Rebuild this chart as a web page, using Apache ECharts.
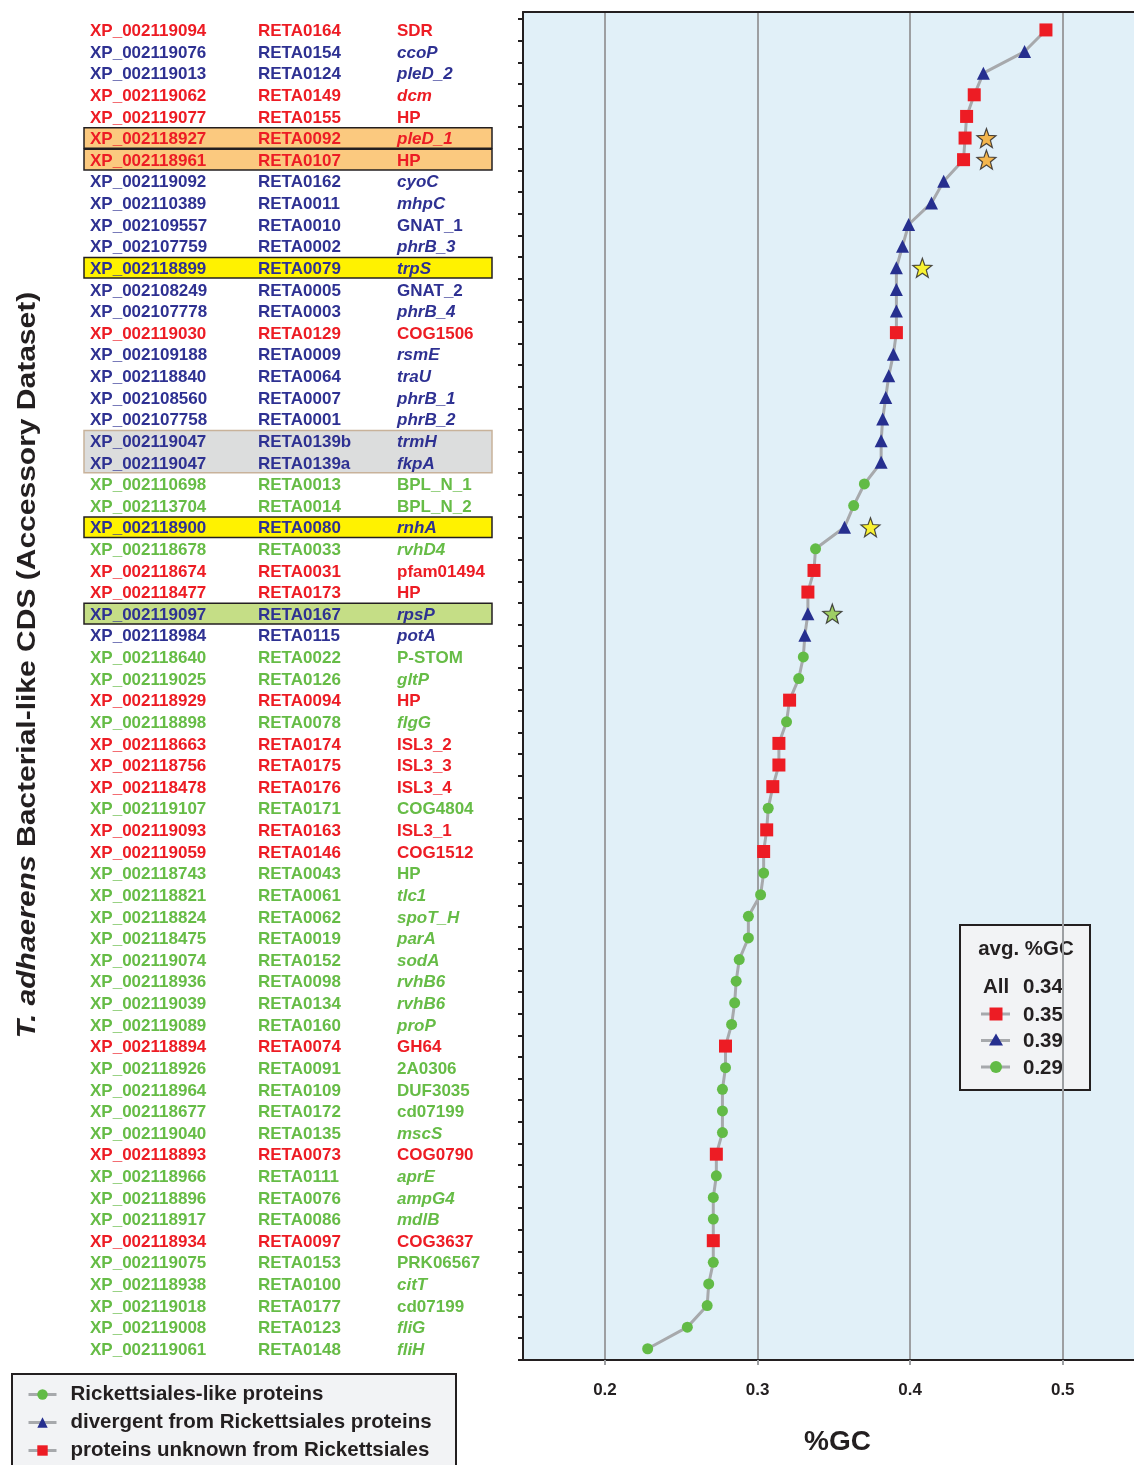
<!DOCTYPE html>
<html>
<head>
<meta charset="utf-8">
<title>T. adhaerens bacterial-like CDS %GC</title>
<script src="https://cdn.jsdelivr.net/npm/echarts@6/dist/echarts.min.js"></script>
<style>
  html, body { margin: 0; padding: 0; background: #fff; }
  #chart { width: 1134px; height: 1465px; }
</style>
</head>
<body>
<div id="chart"></div>
<script>
// rows, top to bottom
const xpIds = [
  'XP_002119094','XP_002119076','XP_002119013','XP_002119062','XP_002119077','XP_002118927','XP_002118961','XP_002119092','XP_002110389','XP_002109557',
  'XP_002107759','XP_002118899','XP_002108249','XP_002107778','XP_002119030','XP_002109188','XP_002118840','XP_002108560','XP_002107758','XP_002119047',
  'XP_002119047','XP_002110698','XP_002113704','XP_002118900','XP_002118678','XP_002118674','XP_002118477','XP_002119097','XP_002118984','XP_002118640',
  'XP_002119025','XP_002118929','XP_002118898','XP_002118663','XP_002118756','XP_002118478','XP_002119107','XP_002119093','XP_002119059','XP_002118743',
  'XP_002118821','XP_002118824','XP_002118475','XP_002119074','XP_002118936','XP_002119039','XP_002119089','XP_002118894','XP_002118926','XP_002118964',
  'XP_002118677','XP_002119040','XP_002118893','XP_002118966','XP_002118896','XP_002118917','XP_002118934','XP_002119075','XP_002118938','XP_002119018',
  'XP_002119008','XP_002119061'
];
const retaIds = [
  'RETA0164','RETA0154','RETA0124','RETA0149','RETA0155','RETA0092','RETA0107','RETA0162','RETA0011','RETA0010',
  'RETA0002','RETA0079','RETA0005','RETA0003','RETA0129','RETA0009','RETA0064','RETA0007','RETA0001','RETA0139b',
  'RETA0139a','RETA0013','RETA0014','RETA0080','RETA0033','RETA0031','RETA0173','RETA0167','RETA0115','RETA0022',
  'RETA0126','RETA0094','RETA0078','RETA0174','RETA0175','RETA0176','RETA0171','RETA0163','RETA0146','RETA0043',
  'RETA0061','RETA0062','RETA0019','RETA0152','RETA0098','RETA0134','RETA0160','RETA0074','RETA0091','RETA0109',
  'RETA0172','RETA0135','RETA0073','RETA0111','RETA0076','RETA0086','RETA0097','RETA0153','RETA0100','RETA0177',
  'RETA0123','RETA0148'
];
const genes = [
  'SDR','ccoP','pleD_2','dcm','HP','pleD_1','HP','cyoC','mhpC','GNAT_1',
  'phrB_3','trpS','GNAT_2','phrB_4','COG1506','rsmE','traU','phrB_1','phrB_2','trmH',
  'fkpA','BPL_N_1','BPL_N_2','rnhA','rvhD4','pfam01494','HP','rpsP','potA','P-STOM',
  'gltP','HP','flgG','ISL3_2','ISL3_3','ISL3_4','COG4804','ISL3_1','COG1512','HP',
  'tlc1','spoT_H','parA','sodA','rvhB6','rvhB6','proP','GH64','2A0306','DUF3035',
  'cd07199','mscS','COG0790','aprE','ampG4','mdlB','COG3637','PRK06567','citT','cd07199',
  'fliG','fliH'
];
const geneItalic = [
  0,1,1,1,0,1,0,1,1,0,
  1,1,0,1,0,1,1,1,1,1,
  1,0,0,1,1,0,0,1,1,0,
  1,0,1,0,0,0,0,0,0,0,
  1,1,1,1,1,1,1,0,0,0,
  0,1,0,1,1,1,0,0,1,0,
  1,1
];
// R = unknown from Rickettsiales, B = divergent, G = Rickettsiales-like
const groups = ('RBBRRRRBBB' + 'BBBBRBBBBB' + 'BGGBGRRBBG' + 'GRGRRRGRRG' +
                'GGGGGGGRGG' + 'GGRGGGRGGG' + 'GG').split('');
const gc = [
  0.489,0.475,0.448,0.442,0.437,0.436,0.435,0.422,0.414,0.399,
  0.395,0.391,0.391,0.391,0.391,0.389,0.386,0.384,0.382,0.381,
  0.381,0.370,0.363,0.357,0.338,0.337,0.333,0.333,0.331,0.330,
  0.327,0.321,0.319,0.314,0.314,0.310,0.307,0.306,0.304,0.304,
  0.302,0.294,0.294,0.288,0.286,0.285,0.283,0.279,0.279,0.277,
  0.277,0.277,0.273,0.273,0.271,0.271,0.271,0.271,0.268,0.267,
  0.254,0.228
];
// stars beside some points
const starRows = [5, 6, 11, 23, 27];
const starGc = [0.450, 0.450, 0.408, 0.374, 0.349];
const starColors = ['#f7a823', '#f7a823', '#fff200', '#fff200', '#8dc63f'];
// highlighted rows
const hlRows = [5, 6, 11, 19, 23, 27];
const hlSpan = [1, 1, 1, 2, 1, 1];
const hlFill = ['#fbc97f', '#fbc97f', '#fff200', '#dcdddd', '#fff200', '#c5de86'];
const hlStroke = ['#231f20', '#231f20', '#231f20', '#c8b29a', '#231f20', '#231f20'];

const xTicks = [0.2, 0.3, 0.4, 0.5];
const avgAll = '0.34';
const avgGroup = { R: '0.35', B: '0.39', G: '0.29' };
const groupNames = {
  G: 'Rickettsiales-like proteins',
  B: 'divergent from Rickettsiales proteins',
  R: 'proteins unknown from Rickettsiales'
};

const FONT = '"Liberation Sans", Arial, Helvetica, sans-serif';
const DARK = '#231f20';
const textColor = { R: '#ed1c24', B: '#2e3192', G: '#66bc46' };
const markColor = { R: '#ed1c24', B: '#262f8f', G: '#62bb46' };
const markSymbol = { R: 'rect', B: 'triangle', G: 'circle' };
const markSize = { R: 13, B: 13, G: 11 };
const LINE_GREY = '#a7a9ac';
const STAR = 'path://M50,0 L62,33 L98,35 L70,57 L80,92 L50,72 L20,92 L30,57 L2,35 L38,33 Z';

const rowBounds = [];
for (let i = 0; i <= gc.length; i++) rowBounds.push(i - 0.5);

const chart = echarts.init(document.getElementById('chart'));

function markerSeries(g) {
  const data = [];
  gc.forEach((v, i) => { if (groups[i] === g) data.push([v, i]); });
  return {
    name: groupNames[g],
    type: 'line',
    data: data,
    symbol: markSymbol[g],
    symbolSize: markSize[g],
    itemStyle: { color: markColor[g] },
    lineStyle: { opacity: 0, width: 0 },
    z: 4
  };
}

function renderRow(params, api) {
  const i = api.value(1);
  const y = api.coord([0.2, i])[1];
  const step = api.size([0, 1])[1];
  const color = textColor[groups[i]];
  const children = [];
  const h = hlRows.indexOf(i);
  if (h >= 0) {
    children.push({
      type: 'rect',
      shape: { x: 84, y: y - step / 2 + 0.5, width: 408, height: step * hlSpan[h] - 1 },
      style: { fill: hlFill[h], stroke: hlStroke[h], lineWidth: 1.5 }
    });
  }
  const ty = y + 1.5;
  const base = { fontFamily: FONT, fontWeight: 'bold', fontSize: 17, fill: color, verticalAlign: 'middle' };
  children.push({ type: 'text', style: Object.assign({ x: 90, y: ty, text: xpIds[i] }, base) });
  children.push({ type: 'text', style: Object.assign({ x: 258, y: ty, text: retaIds[i] }, base) });
  children.push({ type: 'text', style: Object.assign({ x: 397, y: ty, text: genes[i],
    fontStyle: geneItalic[i] ? 'italic' : 'normal' }, base) });
  return { type: 'group', children: children };
}

// avg %GC box inside the plot
const boxFont = { fontFamily: FONT, fontWeight: 'bold', fontSize: 20.5, fill: DARK, verticalAlign: 'middle' };
const avgBox = [
  { type: 'rect', shape: { x: 960, y: 925, width: 130, height: 165 },
    style: { fill: '#f2f3f5', stroke: DARK, lineWidth: 2 } },
  { type: 'text', style: Object.assign({ x: 1026, y: 949, text: 'avg. %GC', align: 'center' }, boxFont) },
  { type: 'text', style: Object.assign({ x: 983, y: 987, text: 'All' }, boxFont) },
  { type: 'text', style: Object.assign({ x: 1023, y: 987, text: avgAll }, boxFont) }
];
['R', 'B', 'G'].forEach((g, k) => {
  const y = 1014 + k * 26.5;
  avgBox.push({ type: 'line', shape: { x1: 981, y1: y, x2: 1010, y2: y },
    style: { stroke: LINE_GREY, lineWidth: 3 } });
  if (g === 'R') avgBox.push({ type: 'rect', shape: { x: 989.5, y: y - 6.5, width: 13, height: 13 },
    style: { fill: markColor.R } });
  if (g === 'B') avgBox.push({ type: 'polygon', shape: { points: [[996, y - 7], [1003, y + 5], [989, y + 5]] },
    style: { fill: markColor.B } });
  if (g === 'G') avgBox.push({ type: 'circle', shape: { cx: 996, cy: y, r: 6 },
    style: { fill: markColor.G } });
  avgBox.push({ type: 'text', style: Object.assign({ x: 1023, y: y + 1, text: avgGroup[g] }, boxFont) });
});

const option = {
  animation: false,
  textStyle: { fontFamily: FONT },
  grid: {
    left: 523, right: 0, top: 12, bottom: 105,
    show: true, backgroundColor: '#e1f0f8', borderWidth: 0
  },
  xAxis: [{
    type: 'value', min: 0.1463, max: 0.5467,
    name: '%GC', nameLocation: 'middle', nameGap: 68,
    nameTextStyle: { fontSize: 28, fontWeight: 'bold', color: DARK, fontFamily: FONT, padding: [0, 0, 0, 18] },
    axisLine: { show: true, onZero: false, lineStyle: { color: DARK, width: 2 } },
    axisTick: { show: true, customValues: xTicks, length: 5, lineStyle: { color: '#9d9fa2', width: 2 } },
    axisLabel: { customValues: xTicks, formatter: v => v.toFixed(1), margin: 22,
      fontSize: 17, fontWeight: 'bold', color: DARK, fontFamily: FONT },
    splitLine: { show: true, lineStyle: { color: '#9d9fa2', width: 2 } }
  }, {
    type: 'value', position: 'top', min: 0.1463, max: 0.5467,
    axisLine: { show: true, onZero: false, lineStyle: { color: DARK, width: 2 } },
    axisTick: { show: false }, axisLabel: { show: false }, splitLine: { show: false }
  }],
  yAxis: {
    type: 'value', inverse: true, min: -0.83, max: 61.52,
    axisLine: { show: true, onZero: false, lineStyle: { color: DARK, width: 2 } },
    axisTick: { show: true, customValues: rowBounds, length: 5, lineStyle: { color: DARK, width: 2 } },
    axisLabel: { show: false },
    splitLine: { show: false }
  },
  legend: {
    orient: 'vertical', left: 27, top: 1384,
    data: [groupNames.G, groupNames.B, groupNames.R],
    selectedMode: false,
    padding: 0,
    itemWidth: 28, itemHeight: 13, itemGap: 7,
    lineStyle: { color: LINE_GREY, width: 3, opacity: 1 },
    textStyle: { fontFamily: FONT, fontWeight: 'bold', fontSize: 20.5, color: DARK,
      lineHeight: 20, padding: [0, 0, 0, 9] }
  },
  graphic: [
    { type: 'rect', z: -1, shape: { x: 12, y: 1374, width: 444, height: 110 },
      style: { fill: '#f2f3f5', stroke: DARK, lineWidth: 2 } },
    { type: 'text', x: 28, y: 665, rotation: Math.PI / 2, scaleX: 1.2,
      style: { text: '{i|T. adhaerens} Bacterial-like CDS (Accessory Dataset)',
        align: 'center', verticalAlign: 'middle', fill: DARK,
        fontFamily: FONT, fontWeight: 'bold', fontSize: 25,
        rich: { i: { fontFamily: FONT, fontWeight: 'bold', fontStyle: 'italic', fontSize: 25, fill: DARK } } } },
    { type: 'group', children: avgBox }
  ],
  series: [
    {
      name: 'all', type: 'line', data: gc.map((v, i) => [v, i]),
      symbol: 'none', lineStyle: { color: LINE_GREY, width: 3 }, z: 3
    },
    markerSeries('R'),
    markerSeries('B'),
    markerSeries('G'),
    {
      name: 'stars', type: 'scatter', symbol: STAR, symbolSize: 19, z: 5,
      data: starRows.map((r, k) => ({ value: [starGc[k], r],
        itemStyle: { color: starColors[k], borderColor: DARK, borderWidth: 1.2 } }))
    },
    {
      name: 'rows', type: 'custom', coordinateSystem: 'cartesian2d', clip: false, silent: true, z: 6,
      data: gc.map((v, i) => [0.2, i]),
      encode: { x: 0, y: 1 },
      renderItem: renderRow
    }
  ]
};

chart.setOption(option);
</script>
</body>
</html>
